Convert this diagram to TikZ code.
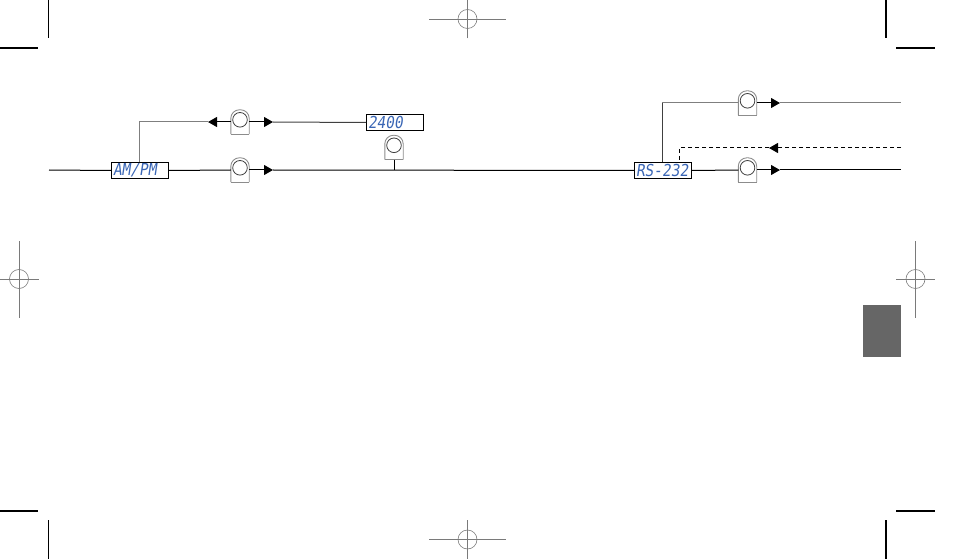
\documentclass[tikz,border=0pt]{standalone}
\usepackage{fontspec}
\usetikzlibrary{arrows.meta}
\newfontfamily\lcd[FakeSlant=0.15,FakeStretch=0.88]{DejaVu Sans Mono}
\definecolor{lcdblue}{HTML}{3A66B5}
\definecolor{lampgray}{HTML}{8C8C8C}
\definecolor{lampdark}{HTML}{404040}
\definecolor{regray}{HTML}{7A7A7A}
\definecolor{tabgray}{HTML}{666666}
\definecolor{branchgray}{HTML}{7F7F7F}
\newcommand\lampshape[1]{%
  \draw[lampgray,line width=0.9pt,rounded corners=8.6pt]
    (#1.south west) -- (#1.north west) -- (#1.north east) -- (#1.south east);
  \draw[lampgray,line width=0.9pt] (#1.south west) -- (#1.south east);
  \draw[lampdark,line width=0.8pt] ([yshift=-10pt]#1.north) circle[radius=7.3pt];
}
% #2 = horizontal arm, #3 = vertical arm
\newcommand\regmark[3]{%
  \draw[regray,line width=0.6pt] ([xshift=-#2]#1) -- ([xshift=#2]#1)
    ([yshift=-#3]#1) -- ([yshift=#3]#1);
  \draw[regray,line width=0.6pt] (#1) circle[radius=9.5pt];
}
\begin{document}
\begin{tikzpicture}[x=1pt,y=-1pt,
  lcdbox/.style={draw=black,line width=1pt,minimum width=57pt,minimum height=16pt,
    inner xsep=1.5pt,inner ysep=0pt,text width=54pt,align=left,text=lcdblue,
    font=\lcd\fontsize{16.5}{16.5}\selectfont,anchor=north west},
  lampn/.style={minimum width=18pt,minimum height=24pt,inner sep=0pt,draw=none},
  mainline/.style={black,line width=1pt},
  branch/.style={branchgray,line width=1pt},
  tip/.style={-{Triangle[length=9pt,width=10pt]}},
  crop/.style={black,line width=1.2pt}]
\useasboundingbox (0,0) rectangle (954,559);
\clip (0,0) rectangle (954,559);
% crop marks
\coordinate (c1a) at (48.5,0); \coordinate (c1b) at (48.5,38);
\coordinate (c2a) at (0,48); \coordinate (c2b) at (38,48);
\coordinate (c3a) at (886,0); \coordinate (c3b) at (886,38);
\coordinate (c4a) at (896,48); \coordinate (c4b) at (935,48);
\coordinate (c5a) at (0,511); \coordinate (c5b) at (38,511);
\coordinate (c6a) at (48.5,520); \coordinate (c6b) at (48.5,559);
\coordinate (c7a) at (896,511); \coordinate (c7b) at (935,511);
\coordinate (c8a) at (886,520); \coordinate (c8b) at (886,559);
\draw[crop] (c1a) -- (c1b) (c2a) -- (c2b) (c3a) -- (c3b) (c4a) -- (c4b)
  (c5a) -- (c5b) (c6a) -- (c6b) (c7a) -- (c7b) (c8a) -- (c8b);
% registration marks
\coordinate (r1) at (467.5,19);
\coordinate (r2) at (467.5,539.5);
\coordinate (r3) at (19,279);
\coordinate (r4) at (915.5,279);
\regmark{r1}{38.5pt}{19.5pt}\regmark{r2}{38.5pt}{19.5pt}
\regmark{r3}{19.5pt}{38.5pt}\regmark{r4}{19.5pt}{38.5pt}
% tab
\fill[tabgray] (863,305) rectangle (901,357);
% boxes
\node[lcdbox] (ampm) at (111,162) {AM/PM};
\node[lcdbox] (b2400) at (366,114) {2400};
\node[lcdbox] (rs) at (634,162) {RS-232};
% lamps
\node[lampn] (L1) at (240,170) {};
\node[lampn] (L2) at (240,122) {};
\node[lampn] (L3) at (394,147.5) {};
\node[lampn] (L4) at (747.5,103) {};
\node[lampn] (L5) at (747.5,170) {};
\lampshape{L1}\lampshape{L2}\lampshape{L3}\lampshape{L4}\lampshape{L5}
% coordinates
\coordinate (start) at (49,170);
\coordinate (a1) at (273,170);
\coordinate (j1) at (394,170);
\coordinate (u1) at (139,122);
\coordinate (a2) at (208,122);
\coordinate (a3) at (273,122);
\coordinate (u2) at (662,103);
\coordinate (a4) at (780,103);
\coordinate (e4) at (901,103);
\coordinate (a5) at (780,170);
\coordinate (e5) at (901,170);
\coordinate (d1) at (679,148);
\coordinate (a6) at (769,148);
\coordinate (e6) at (901,148);
% main line
\draw[mainline] (start) -- (ampm.west);
\draw[mainline] (ampm.east) -- (L1.west);
\draw[mainline,tip] (L1.east) -- (a1);
\draw[mainline] (a1) -- (rs.west);
\draw[mainline] (L3.south) -- (j1);
\draw[mainline] (rs.east) -- (L5.west);
\draw[mainline,tip] (L5.east) -- (a5);
\draw[mainline] (a5) -- (e5);
% AM/PM upper branch
\draw[branch] (u1 |- ampm.north) -- (u1) -- (a2);
\draw[branch,black,tip] (L2.west) -- (a2);
\draw[branch,black,tip] (L2.east) -- (a3);
\draw[branch,darkgray] (a3) -- (b2400.west);
% RS-232 upper branch
\draw[branch,darkgray] (u2 |- rs.north) -- (u2);
\draw[branch] (u2) -- (L4.west);
\draw[branch,black,tip] (L4.east) -- (a4);
\draw[branch] (a4) -- (e4);
% dashed return
\draw[mainline,dash pattern=on 4pt off 3pt,tip] (e6) -- (a6);
\draw[mainline,dash pattern=on 4pt off 3pt] (a6) -- (d1) -- (d1 |- rs.north);
\end{tikzpicture}
\end{document}
